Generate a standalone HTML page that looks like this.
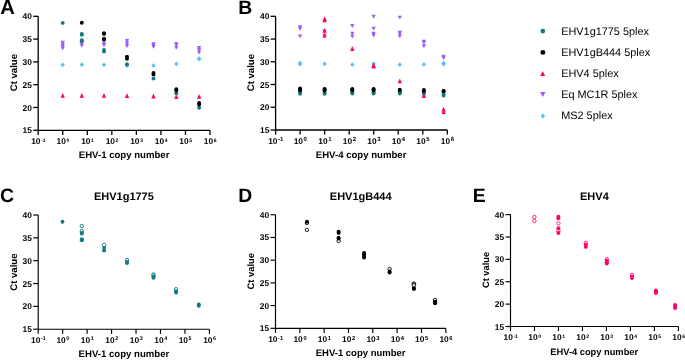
<!DOCTYPE html>
<html><head><meta charset="utf-8"><style>
html,body{margin:0;padding:0;background:#fff;}
body{width:685px;height:360px;overflow:hidden;font-family:"Liberation Sans",sans-serif;}
svg{display:block;will-change:transform;text-rendering:geometricPrecision;}
</style></head><body>
<svg width="685" height="360" viewBox="0 0 685 360">
<rect width="685" height="360" fill="#fff"/>
<text font-family="'Liberation Sans', sans-serif" font-weight="bold" font-size="20.2" x="0.2" y="13.5">A</text>
<g stroke="#000" stroke-width="1.3" fill="none">
<path d="M38.2 16.3V130.3H210"/>
<path d="M33.2 16.30H38.2"/>
<path d="M33.2 39.10H38.2"/>
<path d="M33.2 61.90H38.2"/>
<path d="M33.2 84.70H38.2"/>
<path d="M33.2 107.50H38.2"/>
<path d="M33.2 130.30H38.2"/>
<path d="M38.20 130.3V134.9"/>
<path d="M62.74 130.3V134.9"/>
<path d="M87.29 130.3V134.9"/>
<path d="M111.83 130.3V134.9"/>
<path d="M136.37 130.3V134.9"/>
<path d="M160.91 130.3V134.9"/>
<path d="M185.46 130.3V134.9"/>
<path d="M210.00 130.3V134.9"/>
</g>
<g font-family="'Liberation Sans', sans-serif" font-weight="bold" font-size="8.4" text-anchor="end" fill="#000">
<text x="31.90" y="19.30">40</text>
<text x="31.90" y="42.10">35</text>
<text x="31.90" y="64.90">30</text>
<text x="31.90" y="87.70">25</text>
<text x="31.90" y="110.50">20</text>
<text x="31.90" y="133.30">15</text>
</g>
<g font-family="'Liberation Sans', sans-serif" font-weight="bold" font-size="8.4" text-anchor="middle" fill="#000">
<text x="38.40" y="144.30">10<tspan font-size="5.0" dx="0.6" dy="-2.4">-1</tspan></text>
<text x="62.94" y="144.30">10<tspan font-size="5.0" dx="0.6" dy="-2.4">0</tspan></text>
<text x="87.49" y="144.30">10<tspan font-size="5.0" dx="0.6" dy="-2.4">1</tspan></text>
<text x="112.03" y="144.30">10<tspan font-size="5.0" dx="0.6" dy="-2.4">2</tspan></text>
<text x="136.57" y="144.30">10<tspan font-size="5.0" dx="0.6" dy="-2.4">3</tspan></text>
<text x="161.11" y="144.30">10<tspan font-size="5.0" dx="0.6" dy="-2.4">4</tspan></text>
<text x="185.66" y="144.30">10<tspan font-size="5.0" dx="0.6" dy="-2.4">5</tspan></text>
<text x="210.20" y="144.30">10<tspan font-size="5.0" dx="0.6" dy="-2.4">6</tspan></text>
</g>
<text font-family="'Liberation Sans', sans-serif" font-weight="bold" font-size="9.6" text-anchor="middle" transform="translate(16.80 72.60) rotate(-90)">Ct value</text>
<text font-family="'Liberation Sans', sans-serif" font-weight="bold" font-size="9.6" text-anchor="middle" x="124.10" y="157.80">EHV-1 copy number</text>
<path d="M62.70 62.40L64.90 64.80L62.70 67.20L60.50 64.80Z" fill="#5bc2f4"/>
<path d="M81.80 62.30L84.00 64.70L81.80 67.10L79.60 64.70Z" fill="#5bc2f4"/>
<path d="M104.00 62.40L106.20 64.80L104.00 67.20L101.80 64.80Z" fill="#5bc2f4"/>
<path d="M127.00 63.40L129.20 65.80L127.00 68.20L124.80 65.80Z" fill="#5bc2f4"/>
<path d="M153.50 63.20L155.70 65.60L153.50 68.00L151.30 65.60Z" fill="#5bc2f4"/>
<path d="M176.30 61.50L178.50 63.90L176.30 66.30L174.10 63.90Z" fill="#5bc2f4"/>
<path d="M199.10 56.20L201.30 58.60L199.10 61.00L196.90 58.60Z" fill="#5bc2f4"/>
<path d="M199.10 56.80L201.30 59.20L199.10 61.60L196.90 59.20Z" fill="#5bc2f4"/>
<path d="M60.55 40.85L64.85 40.85L62.70 44.75Z" fill="#9d5cf6"/>
<path d="M60.55 42.85L64.85 42.85L62.70 46.75Z" fill="#9d5cf6"/>
<path d="M60.55 44.65L64.85 44.65L62.70 48.55Z" fill="#9d5cf6"/>
<path d="M60.55 46.45L64.85 46.45L62.70 50.35Z" fill="#9d5cf6"/>
<path d="M79.65 42.05L83.95 42.05L81.80 45.95Z" fill="#9d5cf6"/>
<path d="M79.65 43.85L83.95 43.85L81.80 47.75Z" fill="#9d5cf6"/>
<path d="M101.85 41.45L106.15 41.45L104.00 45.35Z" fill="#9d5cf6"/>
<path d="M101.85 43.25L106.15 43.25L104.00 47.15Z" fill="#9d5cf6"/>
<path d="M124.85 39.05L129.15 39.05L127.00 42.95Z" fill="#9d5cf6"/>
<path d="M124.85 41.55L129.15 41.55L127.00 45.45Z" fill="#9d5cf6"/>
<path d="M124.85 44.05L129.15 44.05L127.00 47.95Z" fill="#9d5cf6"/>
<path d="M151.35 42.35L155.65 42.35L153.50 46.25Z" fill="#9d5cf6"/>
<path d="M151.35 43.35L155.65 43.35L153.50 47.25Z" fill="#9d5cf6"/>
<path d="M151.35 44.95L155.65 44.95L153.50 48.85Z" fill="#9d5cf6"/>
<path d="M174.15 42.35L178.45 42.35L176.30 46.25Z" fill="#9d5cf6"/>
<path d="M174.15 43.05L178.45 43.05L176.30 46.95Z" fill="#9d5cf6"/>
<path d="M174.15 45.95L178.45 45.95L176.30 49.85Z" fill="#9d5cf6"/>
<path d="M196.95 46.05L201.25 46.05L199.10 49.95Z" fill="#9d5cf6"/>
<path d="M196.95 48.25L201.25 48.25L199.10 52.15Z" fill="#9d5cf6"/>
<path d="M196.95 50.65L201.25 50.65L199.10 54.55Z" fill="#9d5cf6"/>
<path d="M62.70 93.00L64.90 97.80L60.50 97.80Z" fill="#fb0569"/>
<path d="M81.80 93.00L84.00 97.80L79.60 97.80Z" fill="#fb0569"/>
<path d="M104.00 93.00L106.20 97.80L101.80 97.80Z" fill="#fb0569"/>
<path d="M127.00 93.20L129.20 98.00L124.80 98.00Z" fill="#fb0569"/>
<path d="M153.50 93.60L155.70 98.40L151.30 98.40Z" fill="#fb0569"/>
<path d="M176.30 94.30L178.50 99.10L174.10 99.10Z" fill="#fb0569"/>
<path d="M199.10 94.00L201.30 98.80L196.90 98.80Z" fill="#fb0569"/>
<circle cx="62.70" cy="22.90" r="1.95" fill="#107b7a"/>
<circle cx="81.80" cy="34.00" r="1.95" fill="#107b7a"/>
<circle cx="81.80" cy="34.80" r="1.95" fill="#107b7a"/>
<circle cx="81.80" cy="40.20" r="1.95" fill="#107b7a"/>
<circle cx="81.80" cy="41.00" r="1.95" fill="#107b7a"/>
<circle cx="104.00" cy="50.00" r="1.95" fill="#107b7a"/>
<circle cx="104.00" cy="51.60" r="1.95" fill="#107b7a"/>
<circle cx="127.00" cy="64.20" r="1.95" fill="#107b7a"/>
<circle cx="153.50" cy="78.50" r="1.95" fill="#107b7a"/>
<circle cx="176.30" cy="93.40" r="1.95" fill="#107b7a"/>
<circle cx="199.10" cy="107.80" r="1.95" fill="#107b7a"/>
<circle cx="81.80" cy="22.80" r="1.95" fill="#000000"/>
<circle cx="104.00" cy="33.20" r="1.95" fill="#000000"/>
<circle cx="104.00" cy="33.90" r="1.95" fill="#000000"/>
<circle cx="104.00" cy="38.70" r="1.95" fill="#000000"/>
<circle cx="104.00" cy="39.50" r="1.95" fill="#000000"/>
<circle cx="127.00" cy="56.60" r="1.95" fill="#000000"/>
<circle cx="127.00" cy="58.80" r="1.95" fill="#000000"/>
<circle cx="153.50" cy="73.00" r="1.95" fill="#000000"/>
<circle cx="153.50" cy="74.40" r="1.95" fill="#000000"/>
<circle cx="176.30" cy="89.20" r="1.95" fill="#000000"/>
<circle cx="176.30" cy="90.60" r="1.95" fill="#000000"/>
<circle cx="199.10" cy="103.00" r="1.95" fill="#000000"/>
<circle cx="199.10" cy="104.60" r="1.95" fill="#000000"/>
<text font-family="'Liberation Sans', sans-serif" font-weight="bold" font-size="19.4" x="238.3" y="13.6">B</text>
<g stroke="#000" stroke-width="1.3" fill="none">
<path d="M275.6 16.3V130.0H447.3"/>
<path d="M270.6 16.30H275.6"/>
<path d="M270.6 39.04H275.6"/>
<path d="M270.6 61.78H275.6"/>
<path d="M270.6 84.52H275.6"/>
<path d="M270.6 107.26H275.6"/>
<path d="M270.6 130.00H275.6"/>
<path d="M275.60 130.0V134.6"/>
<path d="M300.13 130.0V134.6"/>
<path d="M324.66 130.0V134.6"/>
<path d="M349.19 130.0V134.6"/>
<path d="M373.71 130.0V134.6"/>
<path d="M398.24 130.0V134.6"/>
<path d="M422.77 130.0V134.6"/>
<path d="M447.30 130.0V134.6"/>
</g>
<g font-family="'Liberation Sans', sans-serif" font-weight="bold" font-size="8.4" text-anchor="end" fill="#000">
<text x="269.30" y="19.30">40</text>
<text x="269.30" y="42.04">35</text>
<text x="269.30" y="64.78">30</text>
<text x="269.30" y="87.52">25</text>
<text x="269.30" y="110.26">20</text>
<text x="269.30" y="133.00">15</text>
</g>
<g font-family="'Liberation Sans', sans-serif" font-weight="bold" font-size="8.4" text-anchor="middle" fill="#000">
<text x="275.80" y="144.00">10<tspan font-size="6.0" dx="0.6" dy="-2.7">-1</tspan></text>
<text x="300.33" y="144.00">10<tspan font-size="6.0" dx="0.6" dy="-2.7">0</tspan></text>
<text x="324.86" y="144.00">10<tspan font-size="6.0" dx="0.6" dy="-2.7">1</tspan></text>
<text x="349.39" y="144.00">10<tspan font-size="6.0" dx="0.6" dy="-2.7">2</tspan></text>
<text x="373.91" y="144.00">10<tspan font-size="6.0" dx="0.6" dy="-2.7">3</tspan></text>
<text x="398.44" y="144.00">10<tspan font-size="6.0" dx="0.6" dy="-2.7">4</tspan></text>
<text x="422.97" y="144.00">10<tspan font-size="6.0" dx="0.6" dy="-2.7">5</tspan></text>
<text x="447.50" y="144.00">10<tspan font-size="6.0" dx="0.6" dy="-2.7">6</tspan></text>
</g>
<text font-family="'Liberation Sans', sans-serif" font-weight="bold" font-size="9.6" text-anchor="middle" transform="translate(254.30 72.60) rotate(-90)">Ct value</text>
<text font-family="'Liberation Sans', sans-serif" font-weight="bold" font-size="9.6" text-anchor="middle" x="361.10" y="157.80">EHV-4 copy number</text>
<path d="M300.10 60.60L302.30 63.00L300.10 65.40L297.90 63.00Z" fill="#5bc2f4"/>
<path d="M300.10 61.80L302.30 64.20L300.10 66.60L297.90 64.20Z" fill="#5bc2f4"/>
<path d="M324.60 61.50L326.80 63.90L324.60 66.30L322.40 63.90Z" fill="#5bc2f4"/>
<path d="M352.30 62.30L354.50 64.70L352.30 67.10L350.10 64.70Z" fill="#5bc2f4"/>
<path d="M373.60 61.30L375.80 63.70L373.60 66.10L371.40 63.70Z" fill="#5bc2f4"/>
<path d="M399.80 62.30L402.00 64.70L399.80 67.10L397.60 64.70Z" fill="#5bc2f4"/>
<path d="M423.90 62.00L426.10 64.40L423.90 66.80L421.70 64.40Z" fill="#5bc2f4"/>
<path d="M443.60 60.80L445.80 63.20L443.60 65.60L441.40 63.20Z" fill="#5bc2f4"/>
<path d="M443.60 61.60L445.80 64.00L443.60 66.40L441.40 64.00Z" fill="#5bc2f4"/>
<path d="M297.95 25.25L302.25 25.25L300.10 29.15Z" fill="#9d5cf6"/>
<path d="M297.95 26.95L302.25 26.95L300.10 30.85Z" fill="#9d5cf6"/>
<path d="M297.95 34.45L302.25 34.45L300.10 38.35Z" fill="#9d5cf6"/>
<path d="M322.45 29.45L326.75 29.45L324.60 33.35Z" fill="#9d5cf6"/>
<path d="M322.45 33.75L326.75 33.75L324.60 37.65Z" fill="#9d5cf6"/>
<path d="M350.15 24.05L354.45 24.05L352.30 27.95Z" fill="#9d5cf6"/>
<path d="M350.15 31.85L354.45 31.85L352.30 35.75Z" fill="#9d5cf6"/>
<path d="M350.15 34.65L354.45 34.65L352.30 38.55Z" fill="#9d5cf6"/>
<path d="M371.45 14.85L375.75 14.85L373.60 18.75Z" fill="#9d5cf6"/>
<path d="M371.45 26.65L375.75 26.65L373.60 30.55Z" fill="#9d5cf6"/>
<path d="M371.45 31.85L375.75 31.85L373.60 35.75Z" fill="#9d5cf6"/>
<path d="M371.45 33.65L375.75 33.65L373.60 37.55Z" fill="#9d5cf6"/>
<path d="M397.65 15.65L401.95 15.65L399.80 19.55Z" fill="#9d5cf6"/>
<path d="M397.65 30.75L401.95 30.75L399.80 34.65Z" fill="#9d5cf6"/>
<path d="M397.65 31.45L401.95 31.45L399.80 35.35Z" fill="#9d5cf6"/>
<path d="M397.65 34.25L401.95 34.25L399.80 38.15Z" fill="#9d5cf6"/>
<path d="M421.75 39.75L426.05 39.75L423.90 43.65Z" fill="#9d5cf6"/>
<path d="M421.75 40.75L426.05 40.75L423.90 44.65Z" fill="#9d5cf6"/>
<path d="M421.75 44.35L426.05 44.35L423.90 48.25Z" fill="#9d5cf6"/>
<path d="M441.45 54.75L445.75 54.75L443.60 58.65Z" fill="#9d5cf6"/>
<path d="M441.45 56.05L445.75 56.05L443.60 59.95Z" fill="#9d5cf6"/>
<circle cx="300.10" cy="92.80" r="1.95" fill="#107b7a"/>
<circle cx="300.10" cy="93.75" r="1.95" fill="#107b7a"/>
<circle cx="324.60" cy="92.80" r="1.95" fill="#107b7a"/>
<circle cx="324.60" cy="93.75" r="1.95" fill="#107b7a"/>
<circle cx="352.30" cy="92.60" r="1.95" fill="#107b7a"/>
<circle cx="352.30" cy="93.45" r="1.95" fill="#107b7a"/>
<circle cx="373.60" cy="92.60" r="1.95" fill="#107b7a"/>
<circle cx="373.60" cy="93.45" r="1.95" fill="#107b7a"/>
<circle cx="399.80" cy="92.60" r="1.95" fill="#107b7a"/>
<circle cx="399.80" cy="93.45" r="1.95" fill="#107b7a"/>
<circle cx="423.90" cy="94.00" r="1.95" fill="#107b7a"/>
<circle cx="443.60" cy="93.80" r="1.95" fill="#107b7a"/>
<circle cx="443.60" cy="95.50" r="1.95" fill="#107b7a"/>
<path d="M324.60 16.30L326.80 21.10L322.40 21.10Z" fill="#fb0569"/>
<path d="M324.60 17.40L326.80 22.20L322.40 22.20Z" fill="#fb0569"/>
<path d="M324.60 28.00L326.80 32.80L322.40 32.80Z" fill="#fb0569"/>
<path d="M324.60 32.80L326.80 37.60L322.40 37.60Z" fill="#fb0569"/>
<path d="M352.30 46.10L354.50 50.90L350.10 50.90Z" fill="#fb0569"/>
<path d="M373.60 62.80L375.80 67.60L371.40 67.60Z" fill="#fb0569"/>
<path d="M373.60 63.60L375.80 68.40L371.40 68.40Z" fill="#fb0569"/>
<path d="M399.80 78.40L402.00 83.20L397.60 83.20Z" fill="#fb0569"/>
<path d="M423.90 93.10L426.10 97.90L421.70 97.90Z" fill="#fb0569"/>
<path d="M443.60 106.80L445.80 111.60L441.40 111.60Z" fill="#fb0569"/>
<path d="M443.60 109.20L445.80 114.00L441.40 114.00Z" fill="#fb0569"/>
<circle cx="300.10" cy="88.50" r="1.95" fill="#000000"/>
<circle cx="300.10" cy="89.60" r="1.95" fill="#000000"/>
<circle cx="300.10" cy="90.60" r="1.95" fill="#000000"/>
<circle cx="324.60" cy="88.90" r="1.95" fill="#000000"/>
<circle cx="324.60" cy="89.80" r="1.95" fill="#000000"/>
<circle cx="324.60" cy="90.60" r="1.95" fill="#000000"/>
<circle cx="352.30" cy="88.90" r="1.95" fill="#000000"/>
<circle cx="352.30" cy="89.70" r="1.95" fill="#000000"/>
<circle cx="352.30" cy="90.40" r="1.95" fill="#000000"/>
<circle cx="373.60" cy="88.90" r="1.95" fill="#000000"/>
<circle cx="373.60" cy="89.70" r="1.95" fill="#000000"/>
<circle cx="373.60" cy="90.40" r="1.95" fill="#000000"/>
<circle cx="399.80" cy="89.80" r="1.95" fill="#000000"/>
<circle cx="399.80" cy="90.40" r="1.95" fill="#000000"/>
<circle cx="423.90" cy="90.00" r="1.95" fill="#000000"/>
<circle cx="423.90" cy="91.20" r="1.95" fill="#000000"/>
<circle cx="443.60" cy="90.90" r="1.95" fill="#000000"/>
<circle cx="443.60" cy="91.20" r="1.95" fill="#000000"/>
<circle cx="542.80" cy="31.10" r="2.4" fill="#107b7a"/>
<circle cx="542.90" cy="52.40" r="2.45" fill="#000000"/>
<path d="M542.70 71.10L545.20 76.10L540.20 76.10Z" fill="#fb0569"/>
<path d="M540.10 92.10L545.50 92.10L542.80 97.10Z" fill="#9d5cf6"/>
<path d="M542.90 113.55L545.20 116.10L542.90 118.65L540.60 116.10Z" fill="#5bc2f4"/>
<g font-family="'Liberation Sans', sans-serif" font-size="10.9" fill="#000">
<text x="561.2" y="34.60">EHV1g1775 5plex</text>
<text x="561.2" y="55.90">EHV1gB444 5plex</text>
<text x="561.2" y="77.00">EHV4 5plex</text>
<text x="561.2" y="98.00">Eq MC1R 5plex</text>
<text x="561.2" y="119.40">MS2 5plex</text>
</g>
<text font-family="'Liberation Sans', sans-serif" font-weight="bold" font-size="19.4" x="0" y="201.8">C</text>
<g stroke="#000" stroke-width="1.15" fill="none">
<path d="M38.2 215.0V329.2H209.4"/>
<path d="M33.2 215.00H38.2"/>
<path d="M33.2 237.84H38.2"/>
<path d="M33.2 260.68H38.2"/>
<path d="M33.2 283.52H38.2"/>
<path d="M33.2 306.36H38.2"/>
<path d="M33.2 329.20H38.2"/>
<path d="M38.20 329.2V333.8"/>
<path d="M62.66 329.2V333.8"/>
<path d="M87.11 329.2V333.8"/>
<path d="M111.57 329.2V333.8"/>
<path d="M136.03 329.2V333.8"/>
<path d="M160.49 329.2V333.8"/>
<path d="M184.94 329.2V333.8"/>
<path d="M209.40 329.2V333.8"/>
</g>
<g font-family="'Liberation Sans', sans-serif" font-weight="bold" font-size="8.4" text-anchor="end" fill="#000">
<text x="31.90" y="218.00">40</text>
<text x="31.90" y="240.84">35</text>
<text x="31.90" y="263.68">30</text>
<text x="31.90" y="286.52">25</text>
<text x="31.90" y="309.36">20</text>
<text x="31.90" y="332.20">15</text>
</g>
<g font-family="'Liberation Sans', sans-serif" font-weight="bold" font-size="8.4" text-anchor="middle" fill="#000">
<text x="38.40" y="343.20">10<tspan font-size="5.4" dx="0.6" dy="-2.8">-1</tspan></text>
<text x="62.86" y="343.20">10<tspan font-size="5.4" dx="0.6" dy="-2.8">0</tspan></text>
<text x="87.31" y="343.20">10<tspan font-size="5.4" dx="0.6" dy="-2.8">1</tspan></text>
<text x="111.77" y="343.20">10<tspan font-size="5.4" dx="0.6" dy="-2.8">2</tspan></text>
<text x="136.23" y="343.20">10<tspan font-size="5.4" dx="0.6" dy="-2.8">3</tspan></text>
<text x="160.69" y="343.20">10<tspan font-size="5.4" dx="0.6" dy="-2.8">4</tspan></text>
<text x="185.14" y="343.20">10<tspan font-size="5.4" dx="0.6" dy="-2.8">5</tspan></text>
<text x="209.60" y="343.20">10<tspan font-size="5.4" dx="0.6" dy="-2.8">6</tspan></text>
</g>
<text font-family="'Liberation Sans', sans-serif" font-weight="bold" font-size="9.6" text-anchor="middle" transform="translate(17.00 272.10) rotate(-90)">Ct value</text>
<text font-family="'Liberation Sans', sans-serif" font-weight="bold" font-size="11" text-anchor="middle" x="123.90" y="199.80">EHV1g1775</text>
<text font-family="'Liberation Sans', sans-serif" font-weight="bold" font-size="9.6" text-anchor="middle" x="123.90" y="357.20">EHV-1 copy number</text>
<circle cx="62.50" cy="221.80" r="1.95" fill="#107b7a"/>
<circle cx="81.80" cy="226.00" r="1.72" fill="#fff" stroke="#107b7a" stroke-width="0.85"/>
<circle cx="81.80" cy="231.00" r="1.72" fill="#fff" stroke="#107b7a" stroke-width="0.85"/>
<circle cx="81.80" cy="233.00" r="1.95" fill="#107b7a"/>
<circle cx="81.80" cy="233.60" r="1.95" fill="#107b7a"/>
<circle cx="81.80" cy="239.20" r="1.95" fill="#107b7a"/>
<circle cx="81.80" cy="240.30" r="1.95" fill="#107b7a"/>
<circle cx="104.10" cy="245.00" r="1.72" fill="#fff" stroke="#107b7a" stroke-width="0.85"/>
<circle cx="104.10" cy="247.90" r="1.95" fill="#107b7a"/>
<circle cx="104.10" cy="250.60" r="1.95" fill="#107b7a"/>
<circle cx="127.00" cy="260.00" r="1.72" fill="#fff" stroke="#107b7a" stroke-width="0.85"/>
<circle cx="127.00" cy="262.00" r="1.95" fill="#107b7a"/>
<circle cx="127.00" cy="263.00" r="1.95" fill="#107b7a"/>
<circle cx="153.50" cy="274.40" r="1.72" fill="#fff" stroke="#107b7a" stroke-width="0.85"/>
<circle cx="153.50" cy="275.40" r="1.72" fill="#fff" stroke="#107b7a" stroke-width="0.85"/>
<circle cx="153.50" cy="276.80" r="1.95" fill="#107b7a"/>
<circle cx="153.50" cy="277.70" r="1.95" fill="#107b7a"/>
<circle cx="176.10" cy="289.20" r="1.72" fill="#fff" stroke="#107b7a" stroke-width="0.85"/>
<circle cx="176.10" cy="291.20" r="1.95" fill="#107b7a"/>
<circle cx="176.10" cy="292.50" r="1.95" fill="#107b7a"/>
<circle cx="198.80" cy="304.40" r="1.95" fill="#107b7a"/>
<circle cx="198.80" cy="305.80" r="1.95" fill="#107b7a"/>
<text font-family="'Liberation Sans', sans-serif" font-weight="bold" font-size="19.4" x="238.3" y="201.8">D</text>
<g stroke="#000" stroke-width="1.15" fill="none">
<path d="M275.5 214.75V328.3H445.8"/>
<path d="M270.5 214.75H275.5"/>
<path d="M270.5 237.46H275.5"/>
<path d="M270.5 260.17H275.5"/>
<path d="M270.5 282.88H275.5"/>
<path d="M270.5 305.59H275.5"/>
<path d="M270.5 328.30H275.5"/>
<path d="M275.50 328.3V332.90000000000003"/>
<path d="M299.83 328.3V332.90000000000003"/>
<path d="M324.16 328.3V332.90000000000003"/>
<path d="M348.49 328.3V332.90000000000003"/>
<path d="M372.81 328.3V332.90000000000003"/>
<path d="M397.14 328.3V332.90000000000003"/>
<path d="M421.47 328.3V332.90000000000003"/>
<path d="M445.80 328.3V332.90000000000003"/>
</g>
<g font-family="'Liberation Sans', sans-serif" font-weight="bold" font-size="8.4" text-anchor="end" fill="#000">
<text x="269.20" y="217.75">40</text>
<text x="269.20" y="240.46">35</text>
<text x="269.20" y="263.17">30</text>
<text x="269.20" y="285.88">25</text>
<text x="269.20" y="308.59">20</text>
<text x="269.20" y="331.30">15</text>
</g>
<g font-family="'Liberation Sans', sans-serif" font-weight="bold" font-size="8.4" text-anchor="middle" fill="#000">
<text x="275.70" y="342.30">10<tspan font-size="5.8" dx="0.6" dy="-2.45">-1</tspan></text>
<text x="300.03" y="342.30">10<tspan font-size="5.8" dx="0.6" dy="-2.45">0</tspan></text>
<text x="324.36" y="342.30">10<tspan font-size="5.8" dx="0.6" dy="-2.45">1</tspan></text>
<text x="348.69" y="342.30">10<tspan font-size="5.8" dx="0.6" dy="-2.45">2</tspan></text>
<text x="373.01" y="342.30">10<tspan font-size="5.8" dx="0.6" dy="-2.45">3</tspan></text>
<text x="397.34" y="342.30">10<tspan font-size="5.8" dx="0.6" dy="-2.45">4</tspan></text>
<text x="421.67" y="342.30">10<tspan font-size="5.8" dx="0.6" dy="-2.45">5</tspan></text>
<text x="446.00" y="342.30">10<tspan font-size="5.8" dx="0.6" dy="-2.45">6</tspan></text>
</g>
<text font-family="'Liberation Sans', sans-serif" font-weight="bold" font-size="9.4" text-anchor="middle" transform="translate(254.00 271.30) rotate(-90)">Ct value</text>
<text font-family="'Liberation Sans', sans-serif" font-weight="bold" font-size="11" text-anchor="middle" x="360.70" y="199.80">EHV1gB444</text>
<text font-family="'Liberation Sans', sans-serif" font-weight="bold" font-size="9.5" text-anchor="middle" x="360.60" y="355.70">EHV-1 copy number</text>
<circle cx="306.90" cy="223.00" r="1.72" fill="#fff" stroke="#000000" stroke-width="0.85"/>
<circle cx="306.90" cy="229.90" r="1.72" fill="#fff" stroke="#000000" stroke-width="0.85"/>
<circle cx="306.90" cy="221.70" r="1.95" fill="#000000"/>
<circle cx="338.60" cy="241.00" r="1.72" fill="#fff" stroke="#000000" stroke-width="0.85"/>
<circle cx="338.60" cy="231.80" r="1.95" fill="#000000"/>
<circle cx="338.60" cy="232.90" r="1.95" fill="#000000"/>
<circle cx="338.60" cy="237.70" r="1.95" fill="#000000"/>
<circle cx="338.60" cy="238.60" r="1.95" fill="#000000"/>
<circle cx="364.10" cy="253.00" r="1.95" fill="#000000"/>
<circle cx="364.10" cy="254.50" r="1.95" fill="#000000"/>
<circle cx="364.10" cy="256.00" r="1.95" fill="#000000"/>
<circle cx="364.10" cy="257.60" r="1.95" fill="#000000"/>
<circle cx="389.60" cy="269.00" r="1.72" fill="#fff" stroke="#000000" stroke-width="0.85"/>
<circle cx="389.60" cy="271.40" r="1.95" fill="#000000"/>
<circle cx="389.60" cy="272.60" r="1.95" fill="#000000"/>
<circle cx="413.90" cy="283.60" r="1.72" fill="#fff" stroke="#000000" stroke-width="0.85"/>
<circle cx="413.90" cy="284.40" r="1.72" fill="#fff" stroke="#000000" stroke-width="0.85"/>
<circle cx="413.90" cy="285.40" r="1.72" fill="#fff" stroke="#000000" stroke-width="0.85"/>
<circle cx="413.90" cy="288.10" r="1.95" fill="#000000"/>
<circle cx="413.90" cy="288.90" r="1.95" fill="#000000"/>
<circle cx="435.10" cy="300.00" r="1.72" fill="#fff" stroke="#000000" stroke-width="0.85"/>
<circle cx="435.10" cy="301.60" r="1.95" fill="#000000"/>
<circle cx="435.10" cy="302.60" r="1.95" fill="#000000"/>
<circle cx="435.10" cy="303.20" r="1.95" fill="#000000"/>
<text font-family="'Liberation Sans', sans-serif" font-weight="bold" font-size="19.4" x="472.8" y="201.8">E</text>
<g stroke="#000" stroke-width="1.15" fill="none">
<path d="M510.5 214.6V326.5H678.4"/>
<path d="M505.5 214.60H510.5"/>
<path d="M505.5 236.98H510.5"/>
<path d="M505.5 259.36H510.5"/>
<path d="M505.5 281.74H510.5"/>
<path d="M505.5 304.12H510.5"/>
<path d="M505.5 326.50H510.5"/>
<path d="M510.50 326.5V331.1"/>
<path d="M534.49 326.5V331.1"/>
<path d="M558.47 326.5V331.1"/>
<path d="M582.46 326.5V331.1"/>
<path d="M606.44 326.5V331.1"/>
<path d="M630.43 326.5V331.1"/>
<path d="M654.41 326.5V331.1"/>
<path d="M678.40 326.5V331.1"/>
</g>
<g font-family="'Liberation Sans', sans-serif" font-weight="bold" font-size="8.4" text-anchor="end" fill="#000">
<text x="504.20" y="217.60">40</text>
<text x="504.20" y="239.98">35</text>
<text x="504.20" y="262.36">30</text>
<text x="504.20" y="284.74">25</text>
<text x="504.20" y="307.12">20</text>
<text x="504.20" y="329.50">15</text>
</g>
<g font-family="'Liberation Sans', sans-serif" font-weight="bold" font-size="8.4" text-anchor="middle" fill="#000">
<text x="510.70" y="339.80">10<tspan font-size="5.0" dx="0.6" dy="-2.0">-1</tspan></text>
<text x="534.69" y="339.80">10<tspan font-size="5.0" dx="0.6" dy="-2.0">0</tspan></text>
<text x="558.67" y="339.80">10<tspan font-size="5.0" dx="0.6" dy="-2.0">1</tspan></text>
<text x="582.66" y="339.80">10<tspan font-size="5.0" dx="0.6" dy="-2.0">2</tspan></text>
<text x="606.64" y="339.80">10<tspan font-size="5.0" dx="0.6" dy="-2.0">3</tspan></text>
<text x="630.63" y="339.80">10<tspan font-size="5.0" dx="0.6" dy="-2.0">4</tspan></text>
<text x="654.61" y="339.80">10<tspan font-size="5.0" dx="0.6" dy="-2.0">5</tspan></text>
<text x="678.60" y="339.80">10<tspan font-size="5.0" dx="0.6" dy="-2.0">6</tspan></text>
</g>
<text font-family="'Liberation Sans', sans-serif" font-weight="bold" font-size="9.3" text-anchor="middle" transform="translate(489.20 270.00) rotate(-90)">Ct value</text>
<text font-family="'Liberation Sans', sans-serif" font-weight="bold" font-size="11" text-anchor="middle" x="594.40" y="199.80">EHV4</text>
<text font-family="'Liberation Sans', sans-serif" font-weight="bold" font-size="9.3" text-anchor="middle" x="594.20" y="354.50">EHV-4 copy number</text>
<circle cx="534.40" cy="217.00" r="1.72" fill="#fff" stroke="#fb0569" stroke-width="0.85"/>
<circle cx="534.40" cy="221.00" r="1.72" fill="#fff" stroke="#fb0569" stroke-width="0.85"/>
<circle cx="558.40" cy="223.40" r="1.72" fill="#fff" stroke="#fb0569" stroke-width="0.85"/>
<circle cx="558.40" cy="230.80" r="1.72" fill="#fff" stroke="#fb0569" stroke-width="0.85"/>
<circle cx="558.40" cy="216.80" r="1.95" fill="#fb0569"/>
<circle cx="558.40" cy="218.20" r="1.95" fill="#fb0569"/>
<circle cx="558.40" cy="228.30" r="1.95" fill="#fb0569"/>
<circle cx="558.40" cy="233.00" r="1.95" fill="#fb0569"/>
<circle cx="585.80" cy="243.00" r="1.72" fill="#fff" stroke="#fb0569" stroke-width="0.85"/>
<circle cx="585.80" cy="244.80" r="1.95" fill="#fb0569"/>
<circle cx="585.80" cy="246.90" r="1.95" fill="#fb0569"/>
<circle cx="606.80" cy="259.30" r="1.72" fill="#fff" stroke="#fb0569" stroke-width="0.85"/>
<circle cx="606.80" cy="260.80" r="1.95" fill="#fb0569"/>
<circle cx="606.80" cy="262.20" r="1.95" fill="#fb0569"/>
<circle cx="606.80" cy="263.60" r="1.95" fill="#fb0569"/>
<circle cx="632.00" cy="275.00" r="1.72" fill="#fff" stroke="#fb0569" stroke-width="0.85"/>
<circle cx="632.00" cy="276.60" r="1.95" fill="#fb0569"/>
<circle cx="632.00" cy="278.00" r="1.95" fill="#fb0569"/>
<circle cx="655.90" cy="290.40" r="1.95" fill="#fb0569"/>
<circle cx="655.90" cy="291.80" r="1.95" fill="#fb0569"/>
<circle cx="655.90" cy="293.10" r="1.95" fill="#fb0569"/>
<circle cx="675.10" cy="305.00" r="1.95" fill="#fb0569"/>
<circle cx="675.10" cy="306.50" r="1.95" fill="#fb0569"/>
<circle cx="675.10" cy="308.00" r="1.95" fill="#fb0569"/>
</svg>
</body></html>
